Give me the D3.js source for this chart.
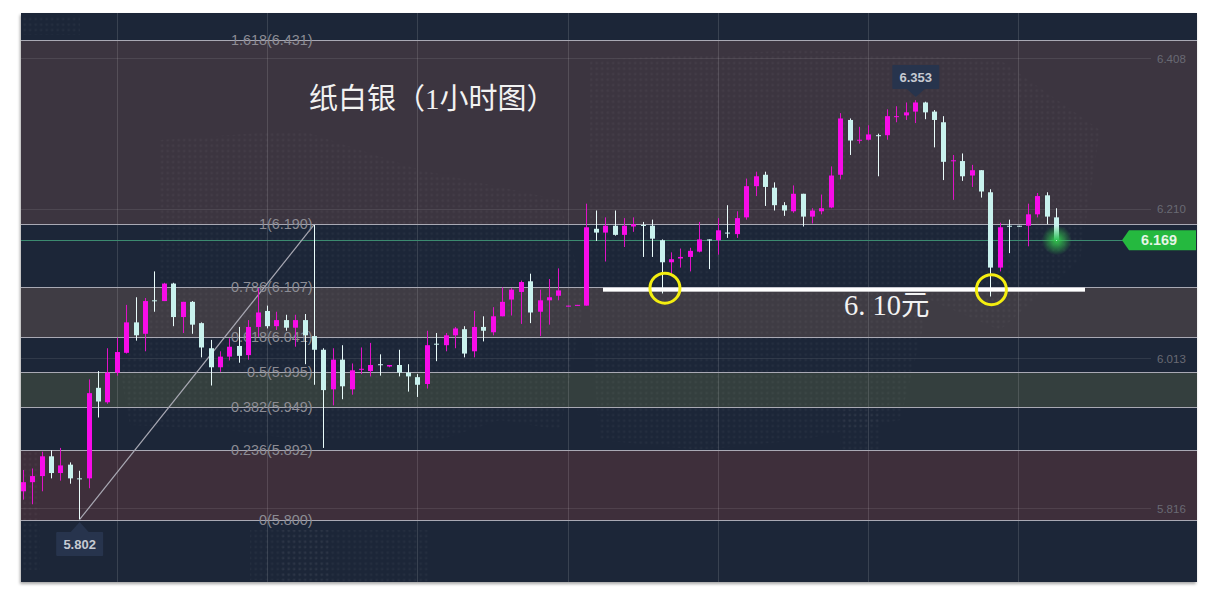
<!DOCTYPE html>
<html><head><meta charset="utf-8">
<script src="https://cdn.jsdelivr.net/npm/d3@7"></script>
<style>html,body{margin:0;padding:0;background:#fff}svg{display:block}</style>
</head><body><svg id="c" width="1215" height="599"></svg>
<script>
const open=[5.839,5.851,5.859,5.885,5.863,5.874,5.856,5.856,5.975,5.956,
5.995,6.021,6.061,6.046,6.090,6.089,6.112,6.068,6.088,6.060,
6.027,6.002,6.016,6.030,6.018,6.055,6.076,6.056,6.064,6.054,
6.064,6.043,6.025,5.973,6.012,5.973,5.999,5.997,6.006,6.003,
6.005,5.995,5.989,5.980,6.033,6.031,6.044,6.052,6.023,6.055,
6.048,6.069,6.091,6.101,6.115,6.075,6.090,6.096,6.082,6.083,
6.083,6.184,6.179,6.188,6.176,6.187,6.189,6.188,6.169,6.140,
6.145,6.147,6.154,6.170,6.169,6.179,6.177,6.199,6.240,6.255,
6.238,6.215,6.207,6.230,6.200,6.207,6.212,6.255,6.327,6.300,
6.301,6.307,6.307,6.331,6.333,6.338,6.350,6.338,6.324,6.273,
6.273,6.254,6.261,6.232,6.133,6.188,6.188,6.188,6.203,6.228,6.199];
const close=[5.851,5.859,5.885,5.863,5.873,5.856,5.855,5.968,5.957,5.995,
6.022,6.061,6.044,6.089,6.089,6.112,6.068,6.088,6.058,6.028,
6.002,6.016,6.029,6.017,6.055,6.074,6.056,6.064,6.054,6.064,
6.044,6.025,5.972,6.012,5.977,5.998,6.000,6.005,6.005,6.005,
5.995,5.990,5.979,6.031,6.032,6.044,6.053,6.020,6.055,6.050,
6.069,6.088,6.104,6.114,6.074,6.090,6.094,6.103,6.083,6.084,
6.186,6.179,6.188,6.176,6.188,6.190,6.188,6.171,6.140,6.144,
6.147,6.155,6.170,6.169,6.182,6.178,6.198,6.240,6.253,6.239,
6.215,6.208,6.230,6.200,6.208,6.211,6.254,6.329,6.300,6.301,
6.308,6.306,6.332,6.332,6.337,6.350,6.337,6.327,6.272,6.274,
6.253,6.261,6.233,6.133,6.186,6.187,6.187,6.203,6.227,6.200,6.169];
const high=[5.867,5.869,5.891,5.893,5.896,5.877,5.866,5.986,5.997,6.027,
6.041,6.084,6.094,6.093,6.128,6.113,6.113,6.088,6.089,6.061,
6.038,6.023,6.040,6.055,6.064,6.106,6.083,6.075,6.071,6.071,
6.072,6.189,6.027,6.027,6.031,6.007,6.028,6.034,6.019,6.005,
6.025,6.006,5.993,6.050,6.047,6.047,6.055,6.056,6.076,6.069,
6.081,6.107,6.106,6.116,6.125,6.104,6.118,6.132,6.083,6.084,
6.217,6.208,6.199,6.208,6.198,6.199,6.193,6.196,6.170,6.153,
6.158,6.159,6.193,6.170,6.198,6.215,6.207,6.250,6.259,6.259,
6.245,6.219,6.241,6.230,6.211,6.229,6.266,6.336,6.329,6.318,
6.320,6.309,6.341,6.345,6.350,6.353,6.351,6.340,6.332,6.281,
6.283,6.268,6.261,6.236,6.192,6.196,6.188,6.217,6.231,6.232,6.211];
const low=[5.828,5.822,5.839,5.856,5.853,5.849,5.802,5.843,5.936,5.954,
5.991,6.020,6.037,6.023,6.075,6.089,6.056,6.047,6.046,6.015,
5.978,5.996,6.011,6.008,6.012,6.042,6.053,6.051,6.050,6.029,
6.006,5.979,5.896,5.952,5.960,5.966,5.993,5.990,5.991,6.002,
5.990,5.970,5.963,5.974,6.010,6.023,6.027,6.015,6.015,6.036,
6.044,6.069,6.070,6.059,6.060,6.043,6.058,6.090,6.082,6.083,
6.083,6.168,6.141,6.175,6.160,6.180,6.147,6.147,6.099,6.125,
6.133,6.128,6.153,6.131,6.150,6.172,6.172,6.196,6.227,6.214,
6.208,6.201,6.205,6.187,6.191,6.203,6.211,6.249,6.281,6.296,
6.300,6.253,6.301,6.324,6.327,6.323,6.328,6.291,6.248,6.222,
6.247,6.239,6.225,6.095,6.128,6.152,6.187,6.161,6.199,6.190,6.168];
const axisTicks=[6.408,6.210,6.013,5.816];
const fibRatios=["1.618","1","0.786","0.618","0.5","0.382","0.236","0"];
const fibLabels=["6.431","6.190","6.107","6.041","5.995","5.949","5.892","5.800"];
const fibLevels=[6.431,6.190,6.107,6.041,5.995,5.949,5.892,5.801];
const bandPairs=[[0,1,"#3c3540"],[2,3,"#3f3c44"],[4,5,"#343f3e"],[6,7,"#3e2f3b"]];
const lastPrice=6.169, swingLow=5.802, swingHigh=6.353, fibHigh=6.190, supportPrice=6.104;
const swingLowIndex=6, fibHighIndex=31, swingHighIndex=95;
const circleIndexes=[68.3,103.05];
const circlePrices=[6.106,6.104];

const svg=d3.select("#c");
const L=21,R=1197,T=13,B=582;
const x=d3.scaleLinear().domain([0,110]).range([23.3,1056.7]);
const y=d3.scaleLinear().domain([6.21,5.816]).range([209,508.8]);
const crisp=v=>Math.floor(v)+.5;
const fontS='"Liberation Sans",Arial,sans-serif';

const defs=svg.append("defs");
defs.append("filter").attr("id","sh").attr("x","-2%").attr("y","-2%").attr("width","104%").attr("height","104%")
  .append("feDropShadow").attr("dx",-1).attr("dy",2).attr("stdDeviation",1.6).attr("flood-color","#000").attr("flood-opacity",.35);
const pat=defs.append("pattern").attr("id","dots").attr("patternUnits","userSpaceOnUse").attr("width",5.5).attr("height",5.5);
pat.append("circle").attr("cx",2.7).attr("cy",2.7).attr("r",1.3).attr("fill","#fff").attr("opacity",.035);
const lg=defs.append("linearGradient").attr("id","fade").attr("x1",0).attr("x2",0).attr("y1",0).attr("y2",1);
lg.append("stop").attr("offset","35%").attr("stop-color","#c9f2ee");
lg.append("stop").attr("offset","100%").attr("stop-color","#2fc257");
const rg=defs.append("radialGradient").attr("id","glow");
rg.append("stop").attr("offset","15%").attr("stop-color","#35d24f").attr("stop-opacity",.8);
rg.append("stop").attr("offset","100%").attr("stop-color","#35d24f").attr("stop-opacity",0);

svg.append("rect").attr("x",L).attr("y",T).attr("width",R-L).attr("height",B-T).attr("fill","#1b2539").attr("filter","url(#sh)");

svg.append("g").selectAll("rect").data(bandPairs).join("rect")
  .attr("x",L).attr("width",R-L)
  .attr("y",d=>y(fibLevels[d[0]])).attr("height",d=>y(fibLevels[d[1]])-y(fibLevels[d[0]]))
  .attr("fill",d=>d[2]);

const mapShapes=[
 "M160,140L300,130L420,170L560,200L585,300L560,430L500,420L440,440L300,440L230,430L130,425L120,370L160,290Z",
 "M590,60L800,50L1000,60L1100,130L1080,260L1000,330L930,300L900,420L800,440L700,450L600,440L590,320Z",
 "M280,530L430,530L430,582L280,582Z","M840,410L880,410L880,450L840,450Z",
 "M22,15L80,15L80,35L22,35Z","M22,450L40,450L40,570L22,570Z","M250,530L330,530L330,580L250,580Z"];
svg.append("g").selectAll("path").data(mapShapes).join("path").attr("d",d=>d).attr("fill","url(#dots)");

const vGrid=d3.range(117.5,1100,150.2);
svg.append("g").selectAll("line").data(vGrid).join("line")
  .attr("x1",d=>crisp(d)).attr("x2",d=>crisp(d)).attr("y1",T).attr("y2",B)
  .attr("stroke","#fff").attr("stroke-opacity",.13);

const ax=d3.axisRight(y).tickValues(axisTicks).tickFormat(d3.format(".3f")).tickSize(0).tickPadding(0);
const axG=svg.append("g").attr("transform","translate(1157,0)").call(ax);
axG.select(".domain").remove();
axG.selectAll("text").attr("font-family",fontS).attr("font-size",11.5).attr("fill","#696a74").attr("x",0);
svg.append("g").selectAll("line").data(axisTicks).join("line")
  .attr("x1",L).attr("x2",1151).attr("y1",d=>crisp(y(d))).attr("y2",d=>crisp(y(d)))
  .attr("stroke","#fff").attr("stroke-opacity",.09);

svg.append("g").selectAll("line").data(fibLevels).join("line")
  .attr("x1",L).attr("x2",R).attr("y1",d=>crisp(y(d))).attr("y2",d=>crisp(y(d)))
  .attr("stroke","#a9a9b4").attr("stroke-width",1);

svg.append("line").attr("x1",L).attr("x2",1124).attr("y1",crisp(y(lastPrice))).attr("y2",crisp(y(lastPrice)))
  .attr("stroke","#3c8a70");

svg.append("line").attr("x1",x(swingLowIndex)).attr("y1",y(swingLow)).attr("x2",x(fibHighIndex)).attr("y2",y(fibHigh))
  .attr("stroke","#a9a9b4").attr("stroke-width",1.2);

svg.append("g").selectAll("text").data(fibLevels).join("text")
  .attr("x",312.5).attr("y",d=>crisp(y(d))+4.8).attr("text-anchor","end")
  .attr("font-family",fontS).attr("font-size",14.4).attr("fill","#8c8c94")
  .text((d,i)=>`${fibRatios[i]}(${fibLabels[i]})`);

svg.append("circle").attr("cx",x(110)).attr("cy",y(lastPrice)).attr("r",15).attr("fill","url(#glow)");

const idx=d3.range(open.length);
const isUp=i=>close[i]>open[i];
const g=svg.append("g");
g.selectAll("line").data(idx).join("line")
  .attr("x1",i=>crisp(x(i))).attr("x2",i=>crisp(x(i)))
  .attr("y1",i=>y(high[i])).attr("y2",i=>y(low[i]))
  .attr("stroke",i=>isUp(i)?"#e012c6":"#eafcfb").attr("stroke-width",1);
g.selectAll("rect").data(idx).join("rect")
  .attr("x",i=>Math.floor(x(i))-2).attr("width",5)
  .attr("y",i=>y(Math.max(open[i],close[i])))
  .attr("height",i=>Math.max(1,Math.abs(y(open[i])-y(close[i]))))
  .attr("fill",i=>i===110?"url(#fade)":isUp(i)?"#f80ce8":"#c9f2ee");

svg.append("rect").attr("x",603).attr("width",482).attr("y",y(supportPrice)-2).attr("height",4).attr("fill","#fff");
svg.append("g").selectAll("circle").data(circleIndexes).join("circle")
  .attr("cx",i=>x(i)).attr("cy",(d,k)=>y(circlePrices[k])).attr("r",15)
  .attr("fill","none").attr("stroke","#f4ee10").attr("stroke-width",3);

function tip(cx,top,h,tipY,txt,size){
  const g=svg.append("g");
  const bottom=top+h, pointUp=tipY<top;
  g.append("path").attr("d",pointUp?`M${cx-9},${top}L${cx},${tipY}L${cx+9},${top}Z`:`M${cx-9},${bottom}L${cx},${tipY}L${cx+9},${bottom}Z`).attr("fill","#27344d");
  g.append("rect").attr("x",cx-23.5).attr("y",top).attr("width",47).attr("height",h).attr("rx",1).attr("fill","#27344d");
  g.append("text").attr("x",cx).attr("y",top+h/2+4.6).attr("text-anchor","middle")
    .attr("font-family",fontS).attr("font-weight","bold").attr("font-size",size).attr("fill","#c6cad2").text(txt);
}
tip(x(swingHighIndex),65,24,97,d3.format(".3f")(swingHigh),13);
tip(x(swingLowIndex),532,24,522,d3.format(".3f")(swingLow),13);

const ty=y(lastPrice);
svg.append("path").attr("d",`M1122,${ty}L1129,${ty-10}L1196,${ty-10}L1196,${ty+10}L1129,${ty+10}Z`).attr("fill","#25b93f");
svg.append("text").attr("x",1159).attr("y",ty+5).attr("text-anchor","middle").attr("font-family",fontS)
  .attr("font-weight","bold").attr("font-size",14.4).attr("fill","#e6f5e6").text(d3.format(".3f")(lastPrice));

const serif='"Liberation Serif","Noto Sans CJK SC",serif';
svg.append("text").attr("x",309).attr("y",109).attr("font-family",serif).attr("font-size",29).attr("fill","#f2f2f2").text("纸白银（1小时图）");
svg.append("text").attr("x",844).attr("y",314.5).attr("font-family",serif).attr("font-size",28.5).attr("fill","#f2f2f2").attr("xml:space","preserve").text("6. 10元");
</script></body></html>
